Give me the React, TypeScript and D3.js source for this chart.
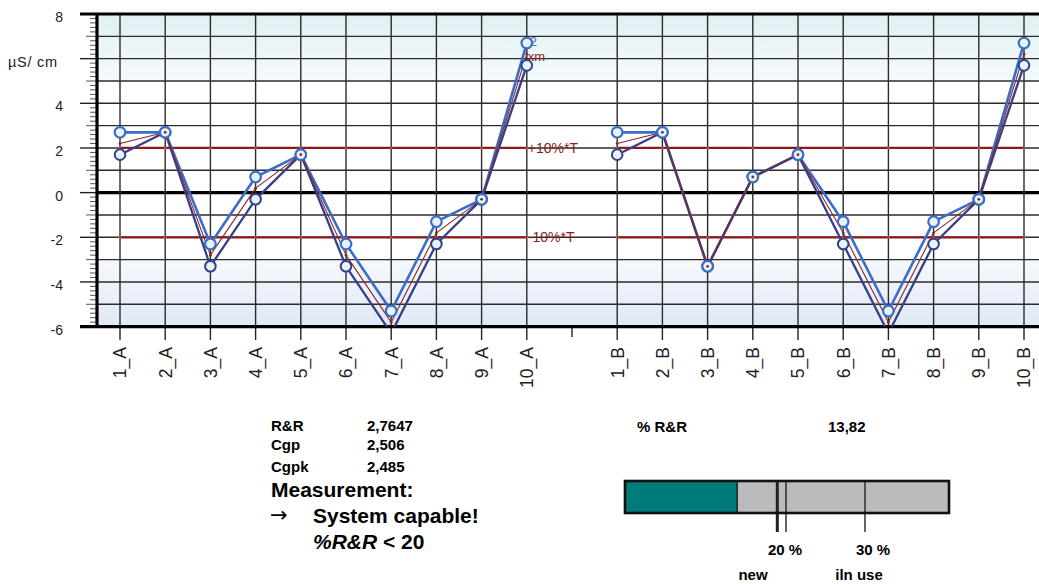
import React from "react";
import * as d3 from "d3";

// Parts and trials of the measurement study
const partsA = ["1_A", "2_A", "3_A", "4_A", "5_A", "6_A", "7_A", "8_A", "9_A", "10_A"];
const partsB = ["1_B", "2_B", "3_B", "4_B", "5_B", "6_B", "7_B", "8_B", "9_B", "10_B"];
const gapKey = "gap";

// Trial 2 (light blue) and trial 1 (dark blue) readings, µS/cm
const trial2A = [2.7, 2.7, -2.3, 0.7, 1.7, -2.3, -5.3, -1.3, -0.3, 6.7];
const trial1A = [1.7, 2.7, -3.3, -0.3, 1.7, -3.3, -6.3, -2.3, -0.3, 5.7];
const trial2B = [2.7, 2.7, -3.3, 0.7, 1.7, -1.3, -5.3, -1.3, -0.3, 6.7];
const trial1B = [1.7, 2.7, -3.3, 0.7, 1.7, -2.3, -6.3, -2.3, -0.3, 5.7];

// Tolerance limits (±10% of T)
const upperLimit = 2;
const lowerLimit = -2;

const yTicks = [8, 4, 2, 0, -2, -4, -6];
const yDomain: [number, number] = [-6, 8];

// Results
const statNames = ["R&R", "Cgp", "Cgpk"];
const statValues = ["2,7647", "2,506", "2,485"];
const pctRR = 13.82;
const pctRRText = "13,82";
const gaugeMarks = [18.9, 20, 30];
const gaugeLabels = ["20 %", "30 %"];
const gaugeSubLabels = ["new", "iln use"];

const W = 1039;
const H = 584;
const plot = { left: 97, top: 14, bottom: 326.6, right: 1050 };
const font = "Arial, 'Liberation Sans', Helvetica, sans-serif";

const BLUE = "#3b6dc8";
const NAVY = "#34408a";
const RED = "#8f2424";
const LIMIT = "#8b1a1a";
const FILL = "#e6f4f7";

type Pt = { key: string; v: number };

export default function App() {
  const keys = [...partsA, gapKey, ...partsB];
  const x = d3.scalePoint<string>().domain(keys).range([120, 1024]);
  const y = d3.scaleLinear().domain(yDomain).range([plot.bottom, plot.top]);

  const groups = [
    { parts: partsA, t2: trial2A, t1: trial1A },
    { parts: partsB, t2: trial2B, t1: trial1B },
  ];

  const line = d3
    .line<Pt>()
    .x((d) => x(d.key)!)
    .y((d) => y(d.v));

  const minorTicks = d3.range(-6, 8.001, 0.2).map((v) => Math.round(v * 10) / 10);
  const gridVals = d3.range(-5, 8);

  const gx = d3.scaleLinear().domain([0, 40]).range([628, 944]);
  const gauge = { x0: 625, x1: 949, top: 481, bottom: 513, tickEnd: 532 };
  const gaugeLabelX = [785, 873];
  const gaugeSubX = [753, 859];
  const statY = [431, 450, 472];

  return (
    <svg
      width={W}
      height={H}
      style={{ position: "absolute", left: 0, top: 0, display: "block", background: "#fff" }}
      fontFamily={font}
    >
      <defs>
        <linearGradient id="topBand" x1="0" y1="0" x2="0" y2="1">
          <stop offset="0%" stopColor="#e0f0f3" />
          <stop offset="100%" stopColor="#f5fbfc" />
        </linearGradient>
        <linearGradient id="bottomBand" x1="0" y1="0" x2="0" y2="1">
          <stop offset="0%" stopColor="#f6f9fd" />
          <stop offset="100%" stopColor="#e0e8f6" />
        </linearGradient>
        <clipPath id="plotClip">
          <rect x={plot.left} y={plot.top} width={plot.right - plot.left} height={plot.bottom - plot.top} />
        </clipPath>
      </defs>

      {/* background bands */}
      <rect x={plot.left} y={y(8)} width={plot.right - plot.left} height={y(5) - y(8)} fill="url(#topBand)" />
      <rect x={plot.left} y={y(-3)} width={plot.right - plot.left} height={y(-6) - y(-3)} fill="url(#bottomBand)" />

      {/* horizontal grid */}
      {gridVals.map((v) => (
        <line
          key={"h" + v}
          x1={plot.left}
          x2={plot.right}
          y1={y(v)}
          y2={y(v)}
          stroke={v === 0 ? "#000" : "#2b2b2b"}
          strokeWidth={v === 0 ? 3.2 : 1.4}
        />
      ))}

      {/* vertical grid at each part */}
      {[...partsA, ...partsB].map((k) => (
        <line key={"v" + k} x1={x(k)} x2={x(k)} y1={plot.top} y2={plot.bottom} stroke="#2b2b2b" strokeWidth={1.4} />
      ))}

      {/* y axis ticks */}
      {minorTicks.map((v) => {
        const isMajor = Math.abs(v % 2) < 1e-6;
        const isMid = !isMajor && Math.abs(v % 1) < 1e-6;
        const x1 = isMajor ? 80 : isMid ? 86 : 90;
        return (
          <line
            key={"t" + v}
            x1={x1}
            x2={plot.left}
            y1={y(v)}
            y2={y(v)}
            stroke={isMajor ? "#222" : "#555"}
            strokeWidth={isMajor ? 1.4 : 1}
          />
        );
      })}
      {yTicks.map((v) => (
        <text key={"yl" + v} x={63} y={y(v) + 3} dy="0.35em" textAnchor="end" fontSize={14} fill="#222">
          {v}
        </text>
      ))}
      <text x={8} y={62} dy="0.35em" fontSize={14.5} fill="#222" textLength={49}>
        µS/ cm
      </text>

      {/* x axis ticks and labels */}
      {keys.map((k) => (
        <line
          key={"xt" + k}
          x1={x(k)}
          x2={x(k)}
          y1={plot.bottom}
          y2={k === gapKey ? 337 : 340}
          stroke="#222"
          strokeWidth={1.4}
        />
      ))}
      {[...partsA, ...partsB].map((k) => (
        <text
          key={"xl" + k}
          transform={`translate(${x(k)},${347}) rotate(-90)`}
          textAnchor="end"
          dy="0.36em"
          fontSize={17.5}
          fill="#222"
        >
          {k}
        </text>
      ))}

      {/* plot borders */}
      <line x1={80} x2={plot.right} y1={plot.top} y2={plot.top} stroke="#000" strokeWidth={3.2} />
      <line x1={80} x2={plot.right} y1={plot.bottom} y2={plot.bottom} stroke="#000" strokeWidth={3.2} />
      <line x1={plot.left} x2={plot.left} y1={plot.top} y2={plot.bottom} stroke="#000" strokeWidth={3.2} />

      {/* tolerance limits */}
      {groups.map((g, gi) =>
        [upperLimit, lowerLimit].map((lim) => (
          <g key={"lim" + gi + lim}>
            <line
              x1={x(g.parts[0])}
              x2={x(g.parts[g.parts.length - 1])}
              y1={y(lim)}
              y2={y(lim)}
              stroke={LIMIT}
              strokeWidth={2.2}
            />
            {g.parts.map((k) => (
              <circle key={k} cx={x(k)} cy={y(lim)} r={1.3} fill="#b05050" />
            ))}
          </g>
        ))
      )}
      <text x={x("10_A")! + 1} y={y(upperLimit)} dy="0.35em" fontSize={14} fill={LIMIT}>
        +10%*T
      </text>
      <text x={x("10_A")! + 1} y={y(lowerLimit)} dy="0.35em" fontSize={14} fill={LIMIT}>
        -10%*T
      </text>

      {/* trial lines, means and points */}
      <g clipPath="url(#plotClip)">
        {groups.map((g, gi) => {
          const p2: Pt[] = g.parts.map((k, i) => ({ key: k, v: g.t2[i] }));
          const p1: Pt[] = g.parts.map((k, i) => ({ key: k, v: g.t1[i] }));
          const pm: Pt[] = g.parts.map((k, i) => ({ key: k, v: (g.t1[i] + g.t2[i]) / 2 }));
          return (
            <g key={"s" + gi}>
              <path d={line(p2)!} fill="none" stroke={BLUE} strokeWidth={2.6} strokeLinejoin="round" />
              <path d={line(p1)!} fill="none" stroke={NAVY} strokeWidth={2.3} strokeLinejoin="round" />
              <path d={line(pm)!} fill="none" stroke={RED} strokeWidth={1.1} strokeLinejoin="round" />
              {p1.map((d) => (
                <circle key={"c1" + d.key} cx={x(d.key)} cy={y(d.v)} r={5.3} fill={FILL} stroke={NAVY} strokeWidth={2} />
              ))}
              {p2.map((d) => (
                <circle key={"c2" + d.key} cx={x(d.key)} cy={y(d.v)} r={5.3} fill={FILL} stroke={BLUE} strokeWidth={2.2} />
              ))}
              {pm.map((d) => (
                <circle key={"cm" + d.key} cx={x(d.key)} cy={y(d.v)} r={1.4} fill={RED} />
              ))}
            </g>
          );
        })}
      </g>
      <text x={x("10_A")! + 3} y={y(trial2A[9]) - 2} dy="0.35em" fontSize={13} fill={BLUE}>
        2
      </text>
      <text x={x("10_A")! + 1} y={56.5} dy="0.35em" fontSize={13} fill={RED}>
        xm
      </text>

      {/* results table */}
      {statNames.map((s, i) => (
        <g key={s} fontWeight="bold" fontSize={15} fill="#000">
          <text x={271} y={statY[i]}>
            {s}
          </text>
          <text x={367} y={statY[i]}>
            {statValues[i]}
          </text>
        </g>
      ))}
      <text x={271} y={497} fontWeight="bold" fontSize={21} fill="#000">
        Measurement:
      </text>
      <text x={270} y={522} fontSize={21} fontFamily="'DejaVu Sans', sans-serif" fill="#000">
        →
      </text>
      <text x={313} y={523} fontWeight="bold" fontSize={21} fill="#000">
        System capable!
      </text>
      <text x={313} y={549} fontWeight="bold" fontSize={21} fill="#000">
        <tspan fontStyle="italic">%R&amp;R</tspan>
        <tspan> &lt; 20</tspan>
      </text>

      <text x={637} y={432} fontWeight="bold" fontSize={15} fill="#000">
        % R&amp;R
      </text>
      <text x={828} y={432} fontWeight="bold" fontSize={15} fill="#000">
        {pctRRText}
      </text>

      {/* %R&R gauge */}
      <rect x={gauge.x0} y={gauge.top} width={gauge.x1 - gauge.x0} height={gauge.bottom - gauge.top} fill="#b9bbbd" />
      <rect x={gauge.x0} y={gauge.top} width={gx(pctRR) - gauge.x0} height={gauge.bottom - gauge.top} fill="#007b7b" />
      <line x1={gx(pctRR)} x2={gx(pctRR)} y1={gauge.top} y2={gauge.bottom} stroke="#222" strokeWidth={1.5} />
      {gaugeMarks.map((m, i) => (
        <line
          key={"gm" + m}
          x1={gx(m)}
          x2={gx(m)}
          y1={gauge.top}
          y2={gauge.tickEnd}
          stroke="#222"
          strokeWidth={i === 0 ? 3 : 1.4}
        />
      ))}
      <rect
        x={gauge.x0}
        y={gauge.top}
        width={gauge.x1 - gauge.x0}
        height={gauge.bottom - gauge.top}
        fill="none"
        stroke="#111"
        strokeWidth={2.6}
      />
      {gaugeLabels.map((t, i) => (
        <text key={t} x={gaugeLabelX[i]} y={555} textAnchor="middle" fontWeight="bold" fontSize={15} fill="#000">
          {t}
        </text>
      ))}
      {gaugeSubLabels.map((t, i) => (
        <text key={t} x={gaugeSubX[i]} y={580} textAnchor="middle" fontWeight="bold" fontSize={15} fill="#000">
          {t}
        </text>
      ))}
    </svg>
  );
}
